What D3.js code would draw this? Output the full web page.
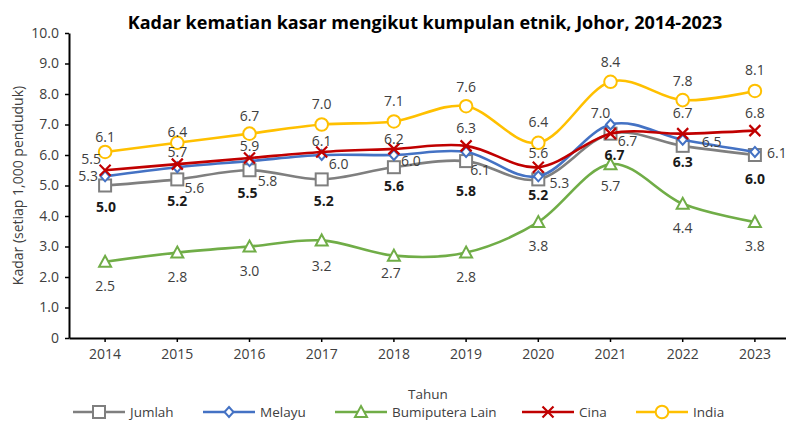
<!DOCTYPE html>
<html>
<head>
<meta charset="utf-8">
<script src="https://cdn.jsdelivr.net/npm/d3@7"></script>
<style>
  html, body { margin: 0; padding: 0; background: #fff; }
  svg { display: block; font-family: "Open Sans", Lato, sans-serif; }
</style>
</head>
<body>
<svg id="chart" width="786" height="423"></svg>
<script>
// Crude death rate per 1,000 population by ethnic group, Johor
const years = ["2014", "2015", "2016", "2017", "2018", "2019", "2020", "2021", "2022", "2023"];
const jumlah = [5.0, 5.2, 5.5, 5.2, 5.6, 5.8, 5.2, 6.7, 6.3, 6.0];
const melayu = [5.3, 5.6, 5.8, 6.0, 6.0, 6.1, 5.3, 7.0, 6.5, 6.1];
const bumiputeraLain = [2.5, 2.8, 3.0, 3.2, 2.7, 2.8, 3.8, 5.7, 4.4, 3.8];
const cina = [5.5, 5.7, 5.9, 6.1, 6.2, 6.3, 5.6, 6.7, 6.7, 6.8];
const india = [6.1, 6.4, 6.7, 7.0, 7.1, 7.6, 6.4, 8.4, 7.8, 8.1];
const yTicks = [0, 1, 2, 3, 4, 5, 6, 7, 8, 9, 10];

const seriesNames = ["Jumlah", "Melayu", "Bumiputera Lain", "Cina", "India"];
const seriesValues = [jumlah, melayu, bumiputeraLain, cina, india];

// drawing styles per series
const styles = {
  "Jumlah":          { color: "#7f7f7f", marker: "square",   bold: true },
  "Melayu":          { color: "#4472c4", marker: "diamond",  bold: false },
  "Bumiputera Lain": { color: "#70ad47", marker: "triangle", bold: false },
  "Cina":            { color: "#c00000", marker: "cross",    bold: false },
  "India":           { color: "#ffc000", marker: "circle",   bold: false }
};

// value-label offsets (pixels from the point), per series and year
const labelOffsets = {
  "Jumlah": [[1,21],[0,21],[-2,22],[2,21],[0,18],[0,29],[0,15],[4,21],[0,16],[0,23]],
  "Melayu": [[-17,-1],[17,20],[18,19],[17,8],[17,5],[14,18],[21,6],[-10,-12],[29,2],[22,1]],
  "Bumiputera Lain": [[0,24],[0,24],[0,24],[0,25],[-3,17],[0,24],[0,23],[0,21],[0,24],[0,23]],
  "Cina": [[-14,-12],[0,-13],[0,-13],[0,-11],[0,-10],[0,-18],[0,-15],[17,7],[0,-21],[0,-18]],
  "India": [[0,-15],[0,-11],[0,-18],[0,-21],[0,-21],[0,-20],[0,-21],[0,-20],[0,-20],[0,-21]]
};

const FS = 14;
const svg = d3.select("#chart");

const x = d3.scaleBand().domain(years).range([69, 791]).paddingInner(0).paddingOuter(0);
const cx = d => x(d) + x.bandwidth() / 2;
const y = d3.scaleLinear().domain([0, 10]).range([338, 33]);

// title
svg.append("text")
  .attr("x", 425).attr("y", 29)
  .attr("text-anchor", "middle")
  .attr("font-size", 18).attr("font-weight", 700).attr("fill", "#000")
  .text("Kadar kematian kasar mengikut kumpulan etnik, Johor, 2014-2023");

// axes
const xAxis = svg.append("g")
  .attr("transform", `translate(0,${y(0)})`)
  .call(d3.axisBottom(x).tickSize(4).tickSizeOuter(0).tickPadding(7));
xAxis.select(".domain").attr("stroke", "#000").attr("stroke-width", 2);
xAxis.selectAll(".tick line").attr("stroke", "#000").attr("stroke-width", 1.5);
xAxis.selectAll(".tick text").attr("font-size", FS).attr("fill", "#404040").attr("font-family", "Open Sans");

const yAxis = svg.append("g")
  .attr("transform", "translate(69,0)")
  .call(d3.axisLeft(y).tickValues(yTicks).tickSize(4).tickSizeOuter(0).tickPadding(6)
    .tickFormat(d => d === 0 ? "0" : d3.format(".1f")(d)));
yAxis.select(".domain").attr("stroke", "#000").attr("stroke-width", 2);
yAxis.selectAll(".tick line").attr("stroke", "#000").attr("stroke-width", 1.5);
yAxis.selectAll(".tick text").attr("font-size", FS).attr("fill", "#404040").attr("font-family", "Open Sans");

// axis titles
svg.append("text")
  .attr("transform", `translate(17,${(y(0) + y(10)) / 2}) rotate(-90)`)
  .attr("text-anchor", "middle").attr("dominant-baseline", "central")
  .attr("font-size", FS).attr("fill", "#404040")
  .text("Kadar (setiap 1,000 penduduk)");
svg.append("text")
  .attr("x", 428).attr("y", 394)
  .attr("text-anchor", "middle").attr("dominant-baseline", "central")
  .attr("font-size", 13.5).attr("fill", "#404040")
  .text("Tahun");

// marker drawing
function drawMarker(g, type, color, px, py) {
  const common = s => s.attr("stroke", color).attr("stroke-width", 2);
  if (type === "square") {
    common(g.append("rect").attr("x", px - 6).attr("y", py - 6).attr("width", 12).attr("height", 12).attr("fill", "#fff"));
  } else if (type === "circle") {
    common(g.append("circle").attr("cx", px).attr("cy", py).attr("r", 6.3).attr("fill", "#fff"));
  } else if (type === "diamond") {
    common(g.append("path").attr("d", `M${px},${py - 5}L${px + 4.5},${py}L${px},${py + 5}L${px - 4.5},${py}Z`).attr("fill", "#fff"));
  } else if (type === "triangle") {
    common(g.append("path").attr("d", `M${px},${py - 6}L${px + 6},${py + 5}L${px - 6},${py + 5}Z`).attr("fill", "#fff"));
  } else if (type === "cross") {
    g.append("path").attr("d", `M${px - 5.5},${py - 5.5}L${px + 5.5},${py + 5.5}M${px + 5.5},${py - 5.5}L${px - 5.5},${py + 5.5}`)
      .attr("stroke", color).attr("stroke-width", 2.2).attr("fill", "none");
  }
}

const line = d3.line()
  .x((d, i) => cx(years[i]))
  .y(d => y(d))
  .curve(d3.curveCatmullRom.alpha(0));

const plot = svg.append("g");
seriesNames.forEach((name, si) => {
  const st = styles[name];
  const vals = seriesValues[si];
  const g = plot.append("g");
  g.append("path").datum(vals)
    .attr("d", line).attr("fill", "none")
    .attr("stroke", st.color).attr("stroke-width", 2.6).attr("stroke-linejoin", "round");
  vals.forEach((v, i) => drawMarker(g, st.marker, st.color, cx(years[i]), y(v)));
});

// value labels
const labels = svg.append("g");
seriesNames.forEach((name, si) => {
  const st = styles[name];
  const vals = seriesValues[si];
  vals.forEach((v, i) => {
    const [dx, dy] = labelOffsets[name][i];
    labels.append("text")
      .attr("x", cx(years[i]) + dx).attr("y", y(v) + dy)
      .attr("text-anchor", "middle").attr("dominant-baseline", "central")
      .attr("font-size", FS)
      .attr("font-weight", st.bold ? 700 : 400)
      .attr("fill", st.bold ? "#1a1a1a" : "#404040")
      .text(d3.format(".1f")(v));
  });
});

// legend
const legendX = [73, 203, 335, 522, 636];
const legend = svg.append("g");
seriesNames.forEach((name, si) => {
  const st = styles[name];
  const lx = legendX[si], ly = 412;
  const g = legend.append("g");
  g.append("line").attr("x1", lx).attr("x2", lx + 52).attr("y1", ly).attr("y2", ly)
    .attr("stroke", st.color).attr("stroke-width", 2.6);
  drawMarker(g, st.marker, st.color, lx + 26, ly);
  g.append("text").attr("x", lx + 57).attr("y", ly)
    .attr("dominant-baseline", "central").attr("font-size", 13.5).attr("fill", "#404040")
    .text(name);
});
</script>
</body>
</html>
